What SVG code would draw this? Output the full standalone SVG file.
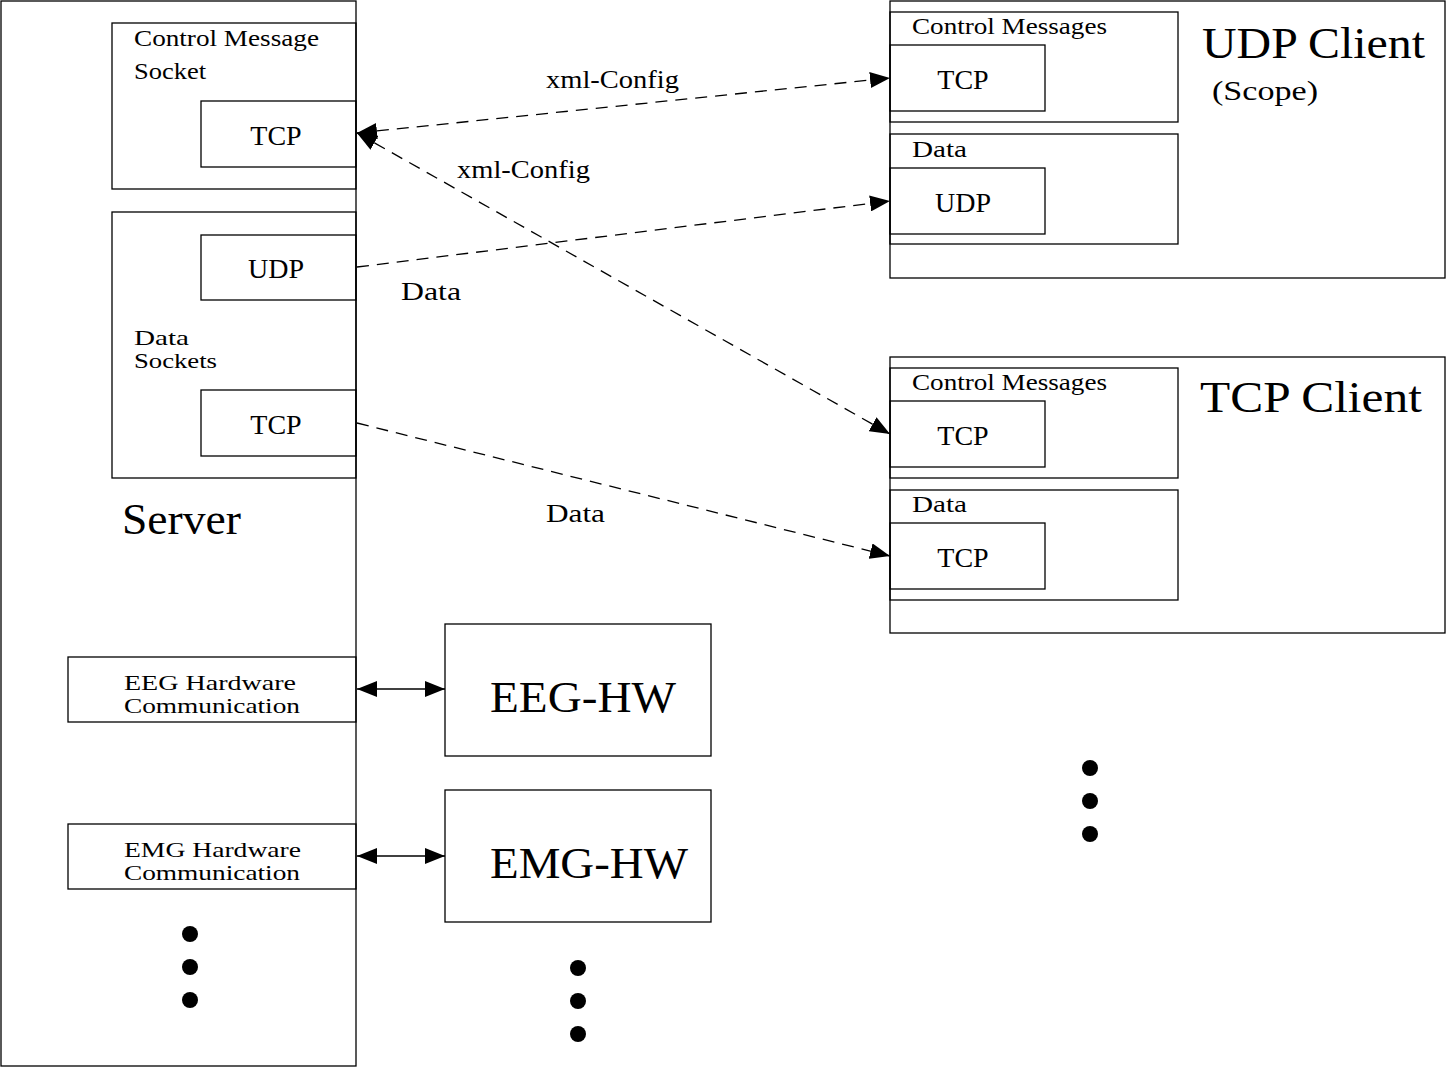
<svg xmlns="http://www.w3.org/2000/svg" width="1446" height="1068" viewBox="0 0 1446 1068">
<defs>
<style>
.box{fill:none;stroke:#000;stroke-width:1.3}
.t{font-family:"Liberation Serif","DejaVu Serif",serif;fill:#000}
.s21{font-size:21px}
.s24{font-size:24px}
.s26{font-size:26px}
.s28{font-size:28px}
.big{font-size:44px}
.dash{fill:none;stroke:#000;stroke-width:1.3;stroke-dasharray:12 8}
.solid{fill:none;stroke:#000;stroke-width:1.5}
</style>
<marker id="ah" markerUnits="userSpaceOnUse" markerWidth="22" markerHeight="16" refX="20" refY="8" orient="auto-start-reverse">
<path d="M0,0 L20,8 L0,16 Z" fill="#000"/>
</marker>
</defs>
<rect width="1446" height="1068" fill="#fff"/>

<g id="server">
<rect class="box" x="1" y="1" width="355" height="1065"/>
<text class="t big" x="122" y="534" textLength="119" lengthAdjust="spacingAndGlyphs">Server</text>
</g>
<g id="ctrl-socket">
<rect class="box" x="112" y="23" width="244" height="166"/>
<text class="t s24" x="134" y="46" textLength="185" lengthAdjust="spacingAndGlyphs">Control Message</text>
<text class="t s24" x="134" y="79" textLength="72" lengthAdjust="spacingAndGlyphs">Socket</text>
</g>
<g id="server-tcp-ctrl">
<rect class="box" x="201" y="101" width="155" height="66"/>
<text class="t s28" x="276" y="145" text-anchor="middle">TCP</text>
</g>
<g id="data-sockets">
<rect class="box" x="112" y="212" width="244" height="266"/>
<text class="t s21" x="134" y="345" textLength="55" lengthAdjust="spacingAndGlyphs">Data</text>
<text class="t s21" x="134" y="368" textLength="83" lengthAdjust="spacingAndGlyphs">Sockets</text>
</g>
<g id="server-udp">
<rect class="box" x="201" y="235" width="155" height="65"/>
<text class="t s28" x="276" y="278" text-anchor="middle">UDP</text>
</g>
<g id="server-tcp-data">
<rect class="box" x="201" y="390" width="155" height="66"/>
<text class="t s28" x="276" y="434" text-anchor="middle">TCP</text>
</g>
<g id="eeg-comm">
<rect class="box" x="68" y="657" width="288" height="65"/>
<text class="t s21" x="124" y="690" textLength="172" lengthAdjust="spacingAndGlyphs">EEG Hardware</text>
<text class="t s21" x="124" y="713" textLength="176" lengthAdjust="spacingAndGlyphs">Communication</text>
</g>
<g id="emg-comm">
<rect class="box" x="68" y="824" width="288" height="65"/>
<text class="t s21" x="124" y="857" textLength="177" lengthAdjust="spacingAndGlyphs">EMG Hardware</text>
<text class="t s21" x="124" y="880" textLength="176" lengthAdjust="spacingAndGlyphs">Communication</text>
</g>
<g id="server-dots">
<circle cx="190" cy="934" r="8"/>
<circle cx="190" cy="967" r="8"/>
<circle cx="190" cy="1000" r="8"/>
</g>

<g id="eeg-hw">
<rect class="box" x="445" y="624" width="266" height="132"/>
<text class="t big" x="490" y="712" textLength="186" lengthAdjust="spacingAndGlyphs">EEG-HW</text>
</g>
<g id="emg-hw">
<rect class="box" x="445" y="790" width="266" height="132"/>
<text class="t big" x="490" y="878" textLength="198" lengthAdjust="spacingAndGlyphs">EMG-HW</text>
</g>
<g id="hw-dots">
<circle cx="578" cy="968" r="8"/>
<circle cx="578" cy="1001" r="8"/>
<circle cx="578" cy="1034" r="8"/>
</g>

<g id="udp-client">
<rect class="box" x="890" y="1" width="555" height="277"/>
<text class="t big" x="1202" y="58" textLength="223" lengthAdjust="spacingAndGlyphs">UDP Client</text>
<text class="t s28" x="1212" y="100" textLength="106" lengthAdjust="spacingAndGlyphs">(Scope)</text>
</g>
<g id="udp-ctrl">
<rect class="box" x="890" y="12" width="288" height="110"/>
<text class="t s24" x="912" y="34" textLength="195" lengthAdjust="spacingAndGlyphs">Control Messages</text>
</g>
<g id="udp-ctrl-tcp">
<rect class="box" x="890" y="45" width="155" height="66"/>
<text class="t s28" x="963" y="89" text-anchor="middle">TCP</text>
</g>
<g id="udp-data">
<rect class="box" x="890" y="134" width="288" height="110"/>
<text class="t s24" x="912" y="157" textLength="55" lengthAdjust="spacingAndGlyphs">Data</text>
</g>
<g id="udp-data-udp">
<rect class="box" x="890" y="168" width="155" height="66"/>
<text class="t s28" x="963" y="212" text-anchor="middle">UDP</text>
</g>

<g id="tcp-client">
<rect class="box" x="890" y="357" width="555" height="276"/>
<text class="t big" x="1200" y="412" textLength="222" lengthAdjust="spacingAndGlyphs">TCP Client</text>
</g>
<g id="tcp-ctrl">
<rect class="box" x="890" y="368" width="288" height="110"/>
<text class="t s24" x="912" y="390" textLength="195" lengthAdjust="spacingAndGlyphs">Control Messages</text>
</g>
<g id="tcp-ctrl-tcp">
<rect class="box" x="890" y="401" width="155" height="66"/>
<text class="t s28" x="963" y="445" text-anchor="middle">TCP</text>
</g>
<g id="tcp-data">
<rect class="box" x="890" y="490" width="288" height="110"/>
<text class="t s24" x="912" y="512" textLength="55" lengthAdjust="spacingAndGlyphs">Data</text>
</g>
<g id="tcp-data-tcp">
<rect class="box" x="890" y="523" width="155" height="66"/>
<text class="t s28" x="963" y="567" text-anchor="middle">TCP</text>
</g>
<g id="client-dots">
<circle cx="1090" cy="768" r="8"/>
<circle cx="1090" cy="801" r="8"/>
<circle cx="1090" cy="834" r="8"/>
</g>

<g id="connectors">
<line class="dash" x1="357" y1="133" x2="890" y2="78" marker-start="url(#ah)" marker-end="url(#ah)"/>
<line class="dash" x1="357" y1="133" x2="890" y2="434" marker-start="url(#ah)" marker-end="url(#ah)"/>
<line class="dash" x1="357" y1="267" x2="890" y2="201" marker-end="url(#ah)"/>
<line class="dash" x1="357" y1="423" x2="890" y2="556" marker-end="url(#ah)"/>
<line class="solid" x1="357" y1="689" x2="445" y2="689" marker-start="url(#ah)" marker-end="url(#ah)"/>
<line class="solid" x1="357" y1="856" x2="445" y2="856" marker-start="url(#ah)" marker-end="url(#ah)"/>
<text class="t s26" x="546" y="88" textLength="133" lengthAdjust="spacingAndGlyphs">xml-Config</text>
<text class="t s26" x="457" y="178" textLength="133" lengthAdjust="spacingAndGlyphs">xml-Config</text>
<text class="t s26" x="401" y="300" textLength="60" lengthAdjust="spacingAndGlyphs">Data</text>
<text class="t s26" x="546" y="522" textLength="59" lengthAdjust="spacingAndGlyphs">Data</text>
</g>
</svg>
